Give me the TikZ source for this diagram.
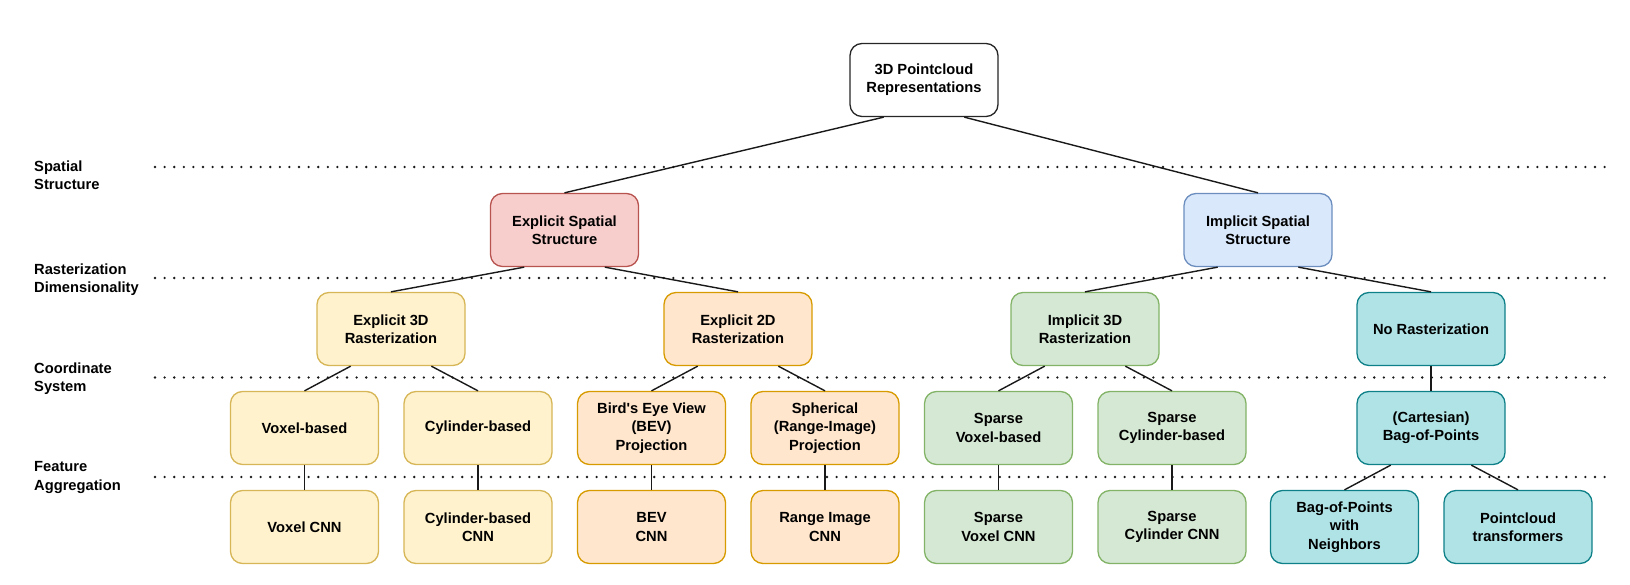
\documentclass[tikz,border=0pt]{standalone}
\usepackage{fontspec}
\setmainfont{Liberation Sans}
\usetikzlibrary{calc}
\definecolor{redF}{HTML}{F8CECC}\definecolor{redD}{HTML}{B85450}
\definecolor{bluF}{HTML}{DAE8FC}\definecolor{bluD}{HTML}{6C8EBF}
\definecolor{yelF}{HTML}{FFF2CC}\definecolor{yelD}{HTML}{D6B656}
\definecolor{oraF}{HTML}{FFE6CC}\definecolor{oraD}{HTML}{D79B00}
\definecolor{greF}{HTML}{D5E8D4}\definecolor{greD}{HTML}{82B366}
\definecolor{teaF}{HTML}{B0E3E6}\definecolor{teaD}{HTML}{0E8088}
\begin{document}
\begin{tikzpicture}[x=1pt,y=-1pt,
  box/.style={draw, line width=1.3pt, rounded corners=12pt, minimum width=148pt, minimum height=73pt,
    inner sep=0pt, align=center, font=\fontsize{14.7pt}{18.3pt}\selectfont\bfseries},
  rootbox/.style={box, draw=black!85, fill=white},
  redbox/.style={box, draw=redD, fill=redF},
  blubox/.style={box, draw=bluD, fill=bluF},
  yelbox/.style={box, draw=yelD, fill=yelF},
  orabox/.style={box, draw=oraD, fill=oraF},
  grebox/.style={box, draw=greD, fill=greF},
  teabox/.style={box, draw=teaD, fill=teaF},
  lvl/.style={anchor=west, align=left, inner sep=0pt, font=\fontsize{14.7pt}{18.3pt}\selectfont\bfseries},
  guide/.style={line width=2.6pt, line cap=round, dash pattern=on 0pt off 9.6pt, black!90},
  conn/.style={line width=1.4pt, black!90}
]
\useasboundingbox (0,0) rectangle (1630,585);

% level guides
\foreach \n/\y in {a/167,b/278,c/377.5,d/477}{
  \coordinate (g\n l) at (155,\y);
  \coordinate (g\n r) at (1613,\y);
  \draw[guide] (g\n l) -- (g\n r);
}
\node[lvl] (l1) at (34,175) {Spatial\\Structure};
\node[lvl] (l2) at (34,280) {Rasterization\\Dimensionality};
\node[lvl] (l3) at (34,378.5) {Coordinate\\System};
\node[lvl] (l4) at (34,477.5) {Feature\\Aggregation};

% nodes
\node[rootbox] (root) at (924,80) {3D Pointcloud\\Representations};
\node[redbox] (ess) at (564.5,230) {Explicit Spatial\\Structure};
\node[blubox] (iss) at (1258,230) {Implicit Spatial\\Structure};

\node[yelbox] (e3d) at (391,329) {Explicit 3D\\Rasterization};
\node[orabox] (e2d) at (738,329) {Explicit 2D\\Rasterization};
\node[grebox] (i3d) at (1085,329) {Implicit 3D\\Rasterization};
\node[teabox] (nor) at (1431,329) {No Rasterization};

\node[yelbox] (vox) at (304.5,428) {Voxel-based};
\node[yelbox] (cyl) at (478,428) {Cylinder-based};
\node[orabox] (bev) at (651.5,428) {Bird\textquotesingle s Eye View\\(BEV)\\Projection};
\node[orabox] (sph) at (825,428) {Spherical\\(Range-Image)\\Projection};
\node[grebox] (svox) at (998.5,428) {Sparse\\Voxel-based};
\node[grebox] (scyl) at (1172,428) {Sparse\\Cylinder-based};
\node[teabox] (bag) at (1431,428) {(Cartesian)\\Bag-of-Points};

\node[yelbox] (voxc) at (304.5,527) {Voxel CNN};
\node[yelbox] (cylc) at (478,527) {Cylinder-based\\CNN};
\node[orabox] (bevc) at (651.5,527) {BEV\\CNN};
\node[orabox] (rngc) at (825,527) {Range Image\\CNN};
\node[grebox] (svoxc) at (998.5,527) {Sparse\\Voxel CNN};
\node[grebox] (scylc) at (1172,527) {Sparse\\Cylinder CNN};
\node[teabox] (bagn) at (1344.5,527) {Bag-of-Points\\with\\Neighbors};
\node[teabox] (pct) at (1518,527) {Pointcloud\\transformers};

% connectors
\newcommand{\twokids}[3]{%
  \draw[conn] ($(#1.south west)!0.23!(#1.south east)$) -- (#2.north);
  \draw[conn] ($(#1.south west)!0.77!(#1.south east)$) -- (#3.north);}
\twokids{root}{ess}{iss}
\twokids{ess}{e3d}{e2d}
\twokids{iss}{i3d}{nor}
\twokids{e3d}{vox}{cyl}
\twokids{e2d}{bev}{sph}
\twokids{i3d}{svox}{scyl}
\twokids{bag}{bagn}{pct}
\foreach \a/\b in {nor/bag,vox/voxc,cyl/cylc,bev/bevc,sph/rngc,svox/svoxc,scyl/scylc}{
  \draw[conn] (\a.south) -- (\b.north);
}
\end{tikzpicture}
\end{document}
